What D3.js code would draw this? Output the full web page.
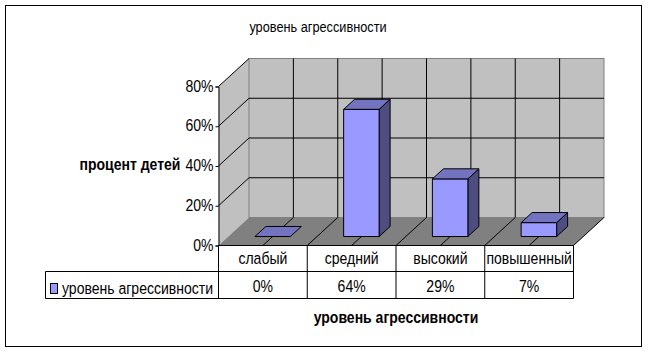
<!DOCTYPE html>
<html lang="ru">
<head>
<meta charset="UTF-8">
<title>уровень агрессивности</title>
<script src="https://d3js.org/d3.v7.min.js"></script>
<style>
    html, body { margin: 0; background: #fff; }
    svg { display: block; }
    text { font-family: "Liberation Sans", Arial, sans-serif; fill: #000; }
</style>
</head>
<body>
<svg id="chart" width="649" height="353"></svg>
<script>
const categories = ["слабый", "средний", "высокий", "повышенный"];
const values = [0, 64, 29, 7];
const yTicks = [0, 20, 40, 60, 80];
const seriesName = "уровень агрессивности";
const titleText = "уровень агрессивности";
const yTitle = "процент детей";
const xTitle = "уровень агрессивности";

const svg = d3.select("#chart");

const x = d3.scaleBand().domain(categories).range([218.5, 573.5]).paddingInner(0.6).paddingOuter(0.3);
const y = d3.scaleLinear().domain([0, 80]).range([245.5, 86.5]);
const depthX = 30.5, depthY = -28;
const xAt = (px, z) => px + z * depthX;
const yAt = (v, z) => y(v) + z * depthY;
const pts = a => a.map(p => p.join(",")).join(" ");

const x0 = x.range()[0], x1 = x.range()[1], step = x.step();

// the original font is tall and narrow, so squeeze the text sideways
const squeeze = "scale(0.85,1)";
const label = (px, py, str, size, anchor) => svg.append("text")
    .attr("transform", `translate(${px},${py}) ${squeeze}`)
    .attr("text-anchor", anchor).attr("font-size", size).text(str);

svg.append("rect").attr("x", 5.5).attr("y", 5.5).attr("width", 636).attr("height", 341)
    .attr("fill", "#fff").attr("stroke", "#000");

// walls and floor
svg.append("polygon")
    .attr("points", pts([[x0, y(0)], [xAt(x0, 1), yAt(0, 1)], [xAt(x0, 1), yAt(80, 1)], [x0, y(80)]]))
    .attr("fill", "#c0c0c0");
svg.append("rect")
    .attr("x", xAt(x0, 1)).attr("y", yAt(80, 1))
    .attr("width", x1 - x0).attr("height", y(0) - y(80))
    .attr("fill", "#c0c0c0").attr("stroke", "#808080");
svg.append("polygon")
    .attr("points", pts([[x0, y(0)], [xAt(x0, 1), yAt(0, 1)], [xAt(x1, 1), yAt(0, 1)], [x1, y(0)]]))
    .attr("fill", "#808080");

// gridlines
const grid = svg.append("g").attr("stroke", "#000").attr("fill", "none");
yTicks.filter(v => v > 0).forEach(v => {
    grid.append("line").attr("x1", x0).attr("y1", y(v)).attr("x2", xAt(x0, 1)).attr("y2", yAt(v, 1));
    if (v < 80) grid.append("line").attr("x1", xAt(x0, 1)).attr("y1", yAt(v, 1)).attr("x2", xAt(x1, 1)).attr("y2", yAt(v, 1));
});
d3.range(1, categories.length * 2).forEach(i => {
    const gx = x0 + i * step / 2;
    grid.append("line").attr("x1", xAt(gx, 1)).attr("y1", yAt(0, 1)).attr("x2", xAt(gx, 1)).attr("y2", yAt(80, 1));
    grid.append("line").attr("x1", gx).attr("y1", y(0)).attr("x2", xAt(gx, 1)).attr("y2", yAt(0, 1));
});
grid.append("line").attr("x1", x1).attr("y1", y(0)).attr("x2", xAt(x1, 1)).attr("y2", yAt(0, 1));

// bars
const zFront = 0.32, zBack = 0.68;
const bars = svg.append("g").selectAll("g").data(categories).enter().append("g")
    .attr("stroke", "#000").attr("stroke-linejoin", "round");
bars.each(function (c, i) {
    const g = d3.select(this);
    const v = values[i];
    const l = x(c), r = x(c) + x.bandwidth();
    if (v > 0) {
        g.append("polygon").attr("fill", "#4d4d80").attr("points", pts([
            [xAt(r, zFront), yAt(0, zFront)], [xAt(r, zBack), yAt(0, zBack)],
            [xAt(r, zBack), yAt(v, zBack)], [xAt(r, zFront), yAt(v, zFront)]]));
        g.append("polygon").attr("fill", "#9999ff").attr("points", pts([
            [xAt(l, zFront), yAt(0, zFront)], [xAt(r, zFront), yAt(0, zFront)],
            [xAt(r, zFront), yAt(v, zFront)], [xAt(l, zFront), yAt(v, zFront)]]));
    }
    g.append("polygon").attr("fill", "#7373bf").attr("points", pts([
        [xAt(l, zFront), yAt(v, zFront)], [xAt(r, zFront), yAt(v, zFront)],
        [xAt(r, zBack), yAt(v, zBack)], [xAt(l, zBack), yAt(v, zBack)]]));
});

// value axis
const axis = d3.axisLeft(y).tickValues(yTicks).tickFormat(d => d + "%").tickSize(3).tickPadding(2);
const axisG = svg.append("g").attr("transform", `translate(${x0},0)`).call(axis);
axisG.select(".domain").attr("stroke", "#000");
axisG.selectAll("text")
    .attr("x", null).attr("dy", null)
    .attr("transform", `translate(-5,4.5) ${squeeze}`)
    .attr("font-size", 16.5).attr("font-family", "Liberation Sans");

// data table
const rowTop = y(0), rowMid = 271.5, rowBot = 298.5, tableLeft = 45.5;
const table = svg.append("g").attr("stroke", "#000").attr("fill", "none");
table.append("line").attr("x1", x0).attr("y1", rowTop).attr("x2", x1).attr("y2", rowTop);
table.append("line").attr("x1", tableLeft).attr("y1", rowMid).attr("x2", x1).attr("y2", rowMid);
table.append("line").attr("x1", tableLeft).attr("y1", rowBot).attr("x2", x1).attr("y2", rowBot);
table.append("line").attr("x1", tableLeft).attr("y1", rowMid).attr("x2", tableLeft).attr("y2", rowBot);
d3.range(0, categories.length + 1).forEach(i => {
    const tx = x0 + i * step;
    table.append("line").attr("x1", tx).attr("y1", rowTop).attr("x2", tx).attr("y2", rowBot);
});

categories.forEach((c, i) => {
    const cx = x(c) + x.bandwidth() / 2;
    label(cx, 264, c, 16.5, "middle");
    label(cx, 292, values[i] + "%", 16.5, "middle");
});

svg.append("rect").attr("x", 50.5).attr("y", 283.5).attr("width", 7).attr("height", 10)
    .attr("fill", "#9999ff").attr("stroke", "#000");
label(62, 294, seriesName, 16.5, "start");

// titles
label(318, 32, titleText, 15, "middle");
label(130, 170, yTitle, 16.5, "middle").attr("font-weight", "bold");
label(396, 323, xTitle, 16.5, "middle").attr("font-weight", "bold");
</script>
</body>
</html>
